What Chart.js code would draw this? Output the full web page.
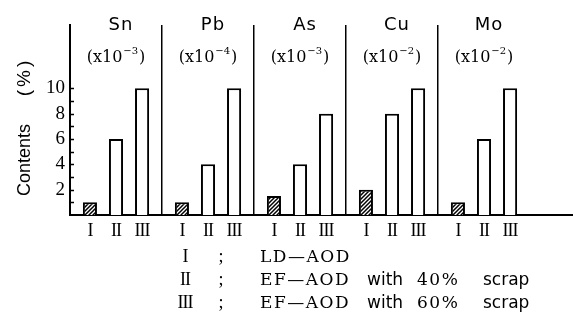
<!DOCTYPE html>
<html>
<head>
<meta charset="utf-8">
<script src="https://cdn.jsdelivr.net/npm/chart.js@4"></script>
<style>
  html, body { margin: 0; padding: 0; background: #fff; }
  #wrap { width: 573px; height: 321px; position: relative; }
</style>
</head>
<body>
<div id="wrap"><canvas id="chart"></canvas></div>
<script>
// values
const elements = ['Sn', 'Pb', 'As', 'Cu', 'Mo'];
const exponents = ['-3', '-4', '-3', '-2', '-2'];
const processI = [1, 1, 1.5, 2, 1];
const processII = [6, 4, 4, 8, 6];
const processIII = [10, 10, 8, 10, 10];
const romanLabels = ['I', 'II', 'III'];
const yTicks = [2, 4, 6, 8, 10];
const legendTexts = ['LD—AOD', 'EF—AOD with 40% scrap', 'EF—AOD with 60% scrap'];
const yTitle = 'Contents';
const yUnit = '(%)';

const SERIF = '"DejaVu Serif", "Liberation Serif", serif';
const SANS = '"Liberation Sans", Arial, sans-serif';

function makeHatch() {
    const c = document.createElement('canvas');
    c.width = 4; c.height = 4;
    const g = c.getContext('2d');
    g.fillStyle = '#fff';
    g.fillRect(0, 0, 4, 4);
    g.strokeStyle = '#000';
    g.lineWidth = 1.5;
    g.beginPath();
    g.moveTo(0, 4); g.lineTo(4, 0);
    g.moveTo(-1, 1); g.lineTo(1, -1);
    g.moveTo(3, 5); g.lineTo(5, 3);
    g.stroke();
    return g.createPattern(c, 'repeat');
}

const figurePlugin = {
    id: 'figureText',
    afterDraw(chart) {
        const ctx = chart.ctx;
        const { left, right, bottom } = chart.chartArea;
        const xs = chart.scales.x;
        const ys = chart.scales.y;
        ctx.save();
        ctx.fillStyle = '#000';
        ctx.strokeStyle = '#000';

        // inner tick marks on the y axis
        ctx.lineWidth = 1.5;
        ctx.beginPath();
        for (let v = 1; v <= 10; v++) {
            const py = Math.round(ys.getPixelForValue(v)) + 0.5;
            ctx.moveTo(left, py);
            ctx.lineTo(left + 4, py);
        }
        ctx.stroke();

        // baseline runs on to the right edge
        ctx.lineWidth = 2;
        ctx.beginPath();
        ctx.moveTo(right, bottom);
        ctx.lineTo(chart.width, bottom);
        ctx.stroke();

        // panel headers
        ctx.textBaseline = 'alphabetic';
        elements.forEach((el, i) => {
            const cx = xs.getPixelForValue(i);
            ctx.font = '18px "DejaVu Sans", sans-serif';
            ctx.letterSpacing = '1px';
            ctx.textAlign = 'center';
            ctx.fillText(el, cx + 5, 30);
            ctx.letterSpacing = '0px';

            ctx.textAlign = 'left';
            ctx.font = '16px ' + SERIF;
            const a = '(x10';
            const wa = ctx.measureText(a).width;
            const wc = ctx.measureText(')').width;
            ctx.font = '10px ' + SERIF;
            const sup = exponents[i].replace('-', '−');
            const wb = ctx.measureText(sup).width + 2;
            let x0 = cx - (wa + wb + wc) / 2;
            ctx.font = '16px ' + SERIF;
            ctx.fillText(a, x0, 62);
            ctx.font = '10px ' + SERIF;
            ctx.fillText(sup, x0 + wa + 1, 54);
            ctx.font = '16px ' + SERIF;
            ctx.fillText(')', x0 + wa + wb, 62);
        });

        // roman numerals under each bar
        ctx.textAlign = 'center';
        ctx.font = '18px "Liberation Serif", serif';
        ctx.letterSpacing = '-1px';
        chart.data.datasets.forEach((ds, d) => {
            chart.getDatasetMeta(d).data.forEach(bar => {
                ctx.fillText(romanLabels[d], bar.x, 236);
            });
        });

        // y axis title
        ctx.letterSpacing = '0px';
        ctx.save();
        ctx.translate(30, 0);
        ctx.rotate(-Math.PI / 2);
        ctx.textAlign = 'center';
        ctx.font = '18px ' + SANS;
        ctx.fillText(yTitle, -160, 0);
        ctx.font = '19px ' + SANS;
        ctx.letterSpacing = '3px';
        ctx.fillText(yUnit, -77, 0);
        ctx.restore();

        // key below the chart
        const rowY = [262, 285, 308];
        const wordX = [260, 367, 417, 483];
        legendTexts.forEach((txt, r) => {
            ctx.letterSpacing = '-1px';
            ctx.textAlign = 'center';
            ctx.font = '18px "Liberation Serif", serif';
            ctx.fillText(romanLabels[r], 185, rowY[r]);
            ctx.letterSpacing = '0px';
            ctx.fillText(';', 221, rowY[r]);
            ctx.textAlign = 'left';
            txt.split(' ').forEach((w, k) => {
                const isWord = /^[a-z]+$/.test(w);
                ctx.font = isWord ? '17px "DejaVu Sans", sans-serif' : '17px ' + SERIF;
                ctx.letterSpacing = isWord ? '0px' : '1.5px';
                ctx.fillText(w, wordX[k], rowY[r]);
            });
        });
        ctx.restore();
    }
};

const hatch = makeHatch();

new Chart(document.getElementById('chart'), {
    type: 'bar',
    data: {
        labels: elements,
        datasets: [
            { label: romanLabels[0], data: processI, backgroundColor: hatch },
            { label: romanLabels[1], data: processII, backgroundColor: '#fff' },
            { label: romanLabels[2], data: processIII, backgroundColor: '#fff' }
        ]
    },
    options: {
        responsive: true,
        maintainAspectRatio: false,
        animation: false,
        layout: { padding: { top: 25, right: 43, left: 0, bottom: 0 } },
        datasets: {
            bar: {
                borderColor: '#000',
                borderWidth: 2,
                categoryPercentage: 0.85,
                barPercentage: 0.54
            }
        },
        plugins: {
            legend: { display: false },
            tooltip: { enabled: false }
        },
        scales: {
            x: {
                afterFit(scale) { scale.height = 106; },
                ticks: { display: false },
                grid: {
                    offset: true,
                    drawTicks: false,
                    lineWidth: 1.5,
                    color: c => (c.index === undefined ? 'rgba(0,0,0,0)' : '#000')
                },
                border: { display: true, color: '#000', width: 2 }
            },
            y: {
                min: 0,
                max: 15,
                afterFit(scale) { scale.width = 70; },
                ticks: {
                    stepSize: 1,
                    autoSkip: false,
                    padding: 5,
                    color: '#000',
                    font: { family: '"Liberation Serif", serif', size: 19 },
                    callback: v => (yTicks.includes(v) ? String(v) : '')
                },
                grid: { display: false, drawTicks: false },
                border: { display: true, color: '#000', width: 2 }
            }
        }
    },
    plugins: [figurePlugin]
});
</script>
</body>
</html>
